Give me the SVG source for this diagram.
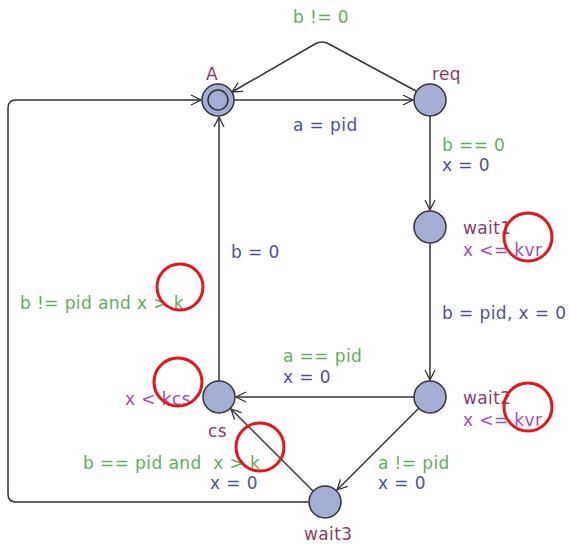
<svg xmlns="http://www.w3.org/2000/svg" width="571" height="544" viewBox="0 0 571 544">
<style>
text{font-family:"DejaVu Sans","Liberation Sans",sans-serif;font-size:17px;letter-spacing:0.4px}
.g{fill:#5fae5f}.b{fill:#50509a}.n{fill:#8a3c66}.i{fill:#a050b0}
.loc{fill:#a4aed4;stroke:#333;stroke-width:1.5}
.e{fill:none;stroke:#333;stroke-width:1.5}
.r{fill:none;stroke:#e8141c;stroke-width:3}
</style>
<defs>
<marker id="ar" viewBox="0 0 12 12" refX="11" refY="6" markerWidth="12" markerHeight="12" markerUnits="userSpaceOnUse" orient="auto">
<path d="M1,1 L11,6 L1,11" fill="none" stroke="#333" stroke-width="1.3"/>
</marker>
</defs>
<g id="connectors">
<line class="e" x1="234" y1="100" x2="413" y2="100" marker-end="url(#ar)"/>
<path class="e" d="M416,91 L329,44 Q322,40 315,44 L232,92" marker-end="url(#ar)"/>
<line class="e" x1="430" y1="116" x2="430" y2="210" marker-end="url(#ar)"/>
<line class="e" x1="430" y1="243" x2="430" y2="380" marker-end="url(#ar)"/>
<line class="e" x1="414" y1="397" x2="236" y2="397" marker-end="url(#ar)"/>
<line class="e" x1="419" y1="408" x2="337" y2="490" marker-end="url(#ar)"/>
<line class="e" x1="313" y1="491" x2="231" y2="409" marker-end="url(#ar)"/>
<line class="e" x1="219" y1="381" x2="219" y2="117" marker-end="url(#ar)"/>
<path class="e" d="M309,502 L16,502 Q8,502 8,494 L8,108 Q8,100 16,100 L201,100" marker-end="url(#ar)"/>
</g>
<g id="A"><circle class="loc" cx="218" cy="100" r="16"/><circle cx="218" cy="100" r="10" fill="none" stroke="#333" stroke-width="1.5"/><text class="n" x="206" y="80">A</text></g>
<g id="req"><circle class="loc" cx="430" cy="100" r="16"/><text class="n" x="432" y="80">req</text></g>
<g id="wait1"><circle class="loc" cx="430" cy="227" r="16"/><text class="n" x="463" y="234">wait1</text><text class="i" x="463" y="256">x &lt;= kvr</text></g>
<g id="wait2"><circle class="loc" cx="430" cy="397" r="16"/><text class="n" x="463" y="404">wait2</text><text class="i" x="463" y="426">x &lt;= kvr</text></g>
<g id="cs"><circle class="loc" cx="219" cy="397" r="16"/><text class="n" x="208" y="437">cs</text><text class="i" x="125" y="405">x &lt; kcs</text></g>
<g id="wait3"><circle class="loc" cx="325" cy="502" r="16"/><text class="n" x="304" y="540">wait3</text></g>
<g id="labels">
<text class="g" x="293" y="23">b != 0</text>
<text class="b" x="293" y="131">a = pid</text>
<text class="g" x="442" y="151">b == 0</text>
<text class="b" x="442" y="171">x = 0</text>
<text class="b" x="442" y="319">b = pid, x = 0</text>
<text class="b" x="231" y="258">b = 0</text>
<text class="g" x="20" y="309">b != pid and x &gt; k</text>
<text class="g" x="283" y="362">a == pid</text>
<text class="b" x="283" y="383">x = 0</text>
<text class="g" x="83" y="469" xml:space="preserve">b == pid and  x &gt; k</text>
<text class="b" x="210" y="489">x = 0</text>
<text class="g" x="378" y="469">a != pid</text>
<text class="b" x="378" y="489">x = 0</text>
</g>
<g id="marks">
<circle class="r" cx="528" cy="237" r="24"/>
<circle class="r" cx="528" cy="407" r="24"/>
<circle class="r" cx="180" cy="287" r="23"/>
<circle class="r" cx="178" cy="382" r="24"/>
<circle class="r" cx="260" cy="447" r="24"/>
</g>
</svg>
